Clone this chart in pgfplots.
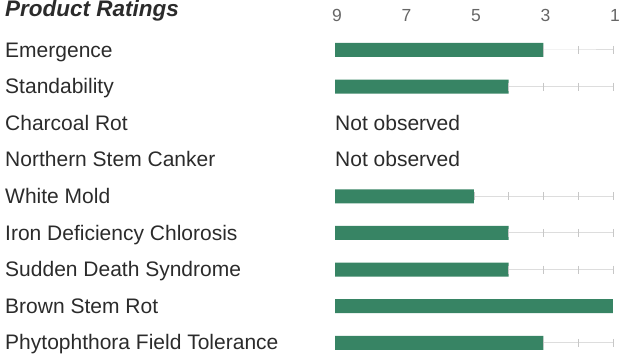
\documentclass[border=0pt]{standalone}
\usepackage{fontspec}
\setmainfont{Liberation Sans}
\usepackage{pgfplots}
\pgfplotsset{compat=1.18}
\usepackage{pgfplotstable}
\definecolor{barg}{HTML}{378464}
\definecolor{lab}{HTML}{2B2B2B}
\definecolor{tk}{HTML}{666666}
\definecolor{track}{HTML}{DDDDDD}
% rating: 9 (left) ... 1 (right); row index from top
\pgfplotstableread{
row rating
0 3
1 4
4 5
5 4
6 4
7 1
8 3
}\ratings
% faint scale track to the right of each bar: (rating, row)
\pgfplotstableread{
rating row
3 0
2 0
1 0
nan nan
4 1
3 1
2 1
1 1
nan nan
5 4
4 4
3 4
2 4
1 4
nan nan
4 5
3 5
2 5
1 5
nan nan
4 6
3 6
2 6
1 6
nan nan
3 8
2 8
1 8
}\tracks
\begin{document}
\begin{tikzpicture}
\useasboundingbox (0pt,0pt) rectangle (621pt,358pt);
\node[anchor=base west, inner sep=0pt, font=\fontsize{22.5}{26}\selectfont\bfseries\itshape, text=lab] at (5pt,341.5pt) {Product Ratings};
\begin{axis}[
  at={(335pt,326.3pt)}, anchor=north west,
  scale only axis, width=278pt, height=325.7pt,
  xmin=0, xmax=8, ymin=-0.5, ymax=8.4, y dir=reverse,
  axis line style={draw=none}, tick style={draw=none},
  clip=false, unbounded coords=jump,
  xtick={0,2,4,6,8}, xticklabels={9,7,5,3,1},
  xticklabel pos=upper,
  xticklabel style={anchor=base, xshift=2pt, yshift=10pt, text=tk, font=\fontsize{17.5}{19}\selectfont},
  ytick={0,...,8},
  yticklabels={Emergence,Standability,Charcoal Rot,Northern Stem Canker,White Mold,Iron Deficiency Chlorosis,Sudden Death Syndrome,Brown Stem Rot,Phytophthora Field Tolerance},
  yticklabel style={anchor=base west, xshift=-333.3pt, yshift=-7.2pt, text=lab, font=\fontsize{21}{24}\selectfont},
]
\addplot[track, line width=1pt, mark=|, mark size=4pt, mark options={draw=track!90!black, line width=0.8pt}] table[x expr=9-\thisrow{rating}, y=row] {\tracks};
\addplot[xbar, bar width=14pt, fill=barg, draw=none] table[x expr=9-\thisrow{rating}, y=row] {\ratings};
\node[anchor=base west, inner sep=0pt, text=lab, font=\fontsize{21}{24}\selectfont] at (axis cs:0,2) [yshift=-7.2pt] {Not observed};
\node[anchor=base west, inner sep=0pt, text=lab, font=\fontsize{21}{24}\selectfont] at (axis cs:0,3) [yshift=-7.2pt] {Not observed};
\end{axis}
\end{tikzpicture}
\end{document}
